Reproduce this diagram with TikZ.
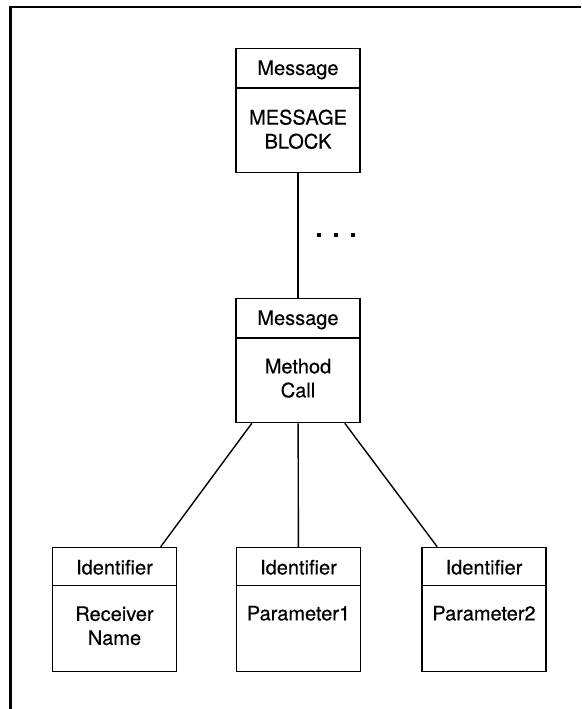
\documentclass[tikz,border=0pt]{standalone}
\usepackage{fontspec}
\setmainfont[FakeBold=0.4,AutoFakeBold=0.4]{TeX Gyre Heros}
\usetikzlibrary{calc}
\begin{document}
\begin{tikzpicture}[x=1pt,y=-1pt,
  box/.style={draw, line width=1.5pt, minimum width=124pt, minimum height=124pt, inner sep=0pt},
  link/.style={line width=1.4pt},
  frame/.style={line width=2.5pt},
  txt/.style={font=\fontsize{20}{24}\selectfont\bfseries, align=center, inner sep=0pt},
  head/.style={txt, text height=14.4pt, text depth=0pt}]
\useasboundingbox (0,0) rectangle (581,709);

% open frame: top and left edges only
\draw[frame] (581,7) -- (10.5,7) -- (10.5,709);

% boxes
\node[box] (blk) at (298,110.5) {};
\node[box] (mc)  at (298,360.5) {};
\node[box] (rn)  at (114.5,609.5) {};
\node[box] (p1)  at (298.5,609.5) {};
\node[box] (p2)  at (484,609.5) {};

% header dividers
\foreach \b/\h in {blk/40, mc/40, rn/38.5, p1/38.5, p2/38.5}
  \draw[line width=1.5pt] ($(\b.north west)+(0,\h)$) -- ($(\b.north east)+(0,\h)$);

% header texts
\node[head] (blkh) at ($(blk.north)+(0,20)$) {Message};
\node[head] (mch)  at ($(mc.north)+(0,20)$) {Message};
\node[head] (rnh)  at ($(rn.north)+(0,20.5)$) {Identifier};
\node[head] (p1h)  at ($(p1.north)+(0,20.5)$) {Identifier};
\node[head] (p2h)  at ($(p2.north)+(0,20.5)$) {Identifier};

% body texts
\node[txt] (blkb) at ($(blk.north)+(0,81.5)$) {MESSAGE\\BLOCK};
\node[txt] (mcb)  at ($(mc.north)+(0,80.5)$) {Method\\Call};
\node[txt] (rnb)  at ($(rn.north)+(0,79)$) {Receiver\\Name};
\node[txt] (p1b)  at ($(p1.north)+(0,66.5)$) {Parameter1};
\node[txt] (p2b)  at ($(p2.north)+(0,66.5)$) {Parameter2};

% connectors
\draw[link] (blk) -- (mc);
\draw[link] (mc) -- (rn);
\draw[link] (mc) -- (p1);
\draw[link] (mc) -- (p2);

% ellipsis beside the upper connector
\foreach \x in {319,336,353}
  \fill (\x-2.3,232.7) rectangle (\x+2.3,237.3);
\end{tikzpicture}
\end{document}
